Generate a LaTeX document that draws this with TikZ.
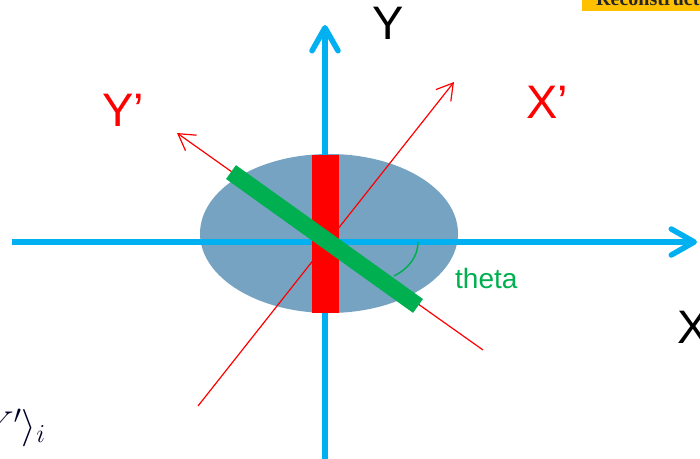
\documentclass[tikz,border=0pt]{standalone}
\usepackage{fontspec}
\setmainfont{Liberation Sans}
\newfontfamily\boxserif{Liberation Serif}
\usetikzlibrary{arrows.meta,shapes.geometric}
\definecolor{axisblue}{RGB}{0,176,240}
\definecolor{ellblue}{RGB}{118,163,193}
\definecolor{barred}{RGB}{255,0,0}
\definecolor{bargreen}{RGB}{0,176,80}
\definecolor{boxorange}{RGB}{255,192,0}
\tikzset{
  axisline/.style={draw=axisblue, line width=5.5pt, -{Straight Barb[length=23pt,width=26pt,round]}},
  primeline/.style={draw=barred, line width=1.2pt, -{Straight Barb[length=16pt,width=19pt]}},
  biglabel/.style={font=\fontsize{47}{50}\selectfont, inner sep=0pt, anchor=base west},
  thetalabel/.style={font=\fontsize{28}{32}\selectfont, inner sep=0pt, anchor=base west, text=bargreen},
}
\begin{document}
\begin{tikzpicture}[x=1pt,y=-1pt]
\useasboundingbox (0,0) rectangle (700,458);
\clip (0,0) rectangle (700,458);

% ellipse
\node[ellipse, fill=ellblue, minimum width=258pt, minimum height=159pt, inner sep=0pt] (ell) at (329,233.5) {};

% axes
\coordinate (xs) at (12,242);
\coordinate (xe) at (697,242);
\coordinate (ys) at (325,470);
\coordinate (ye) at (325,25);
\draw[axisline] (xs) -- (xe);
\draw[axisline] (ys) -- (ye);

% rotated axes
\coordinate (xps) at (198,406);
\coordinate (xpe) at (454,82);
\coordinate (yps) at (483,350);
\coordinate (ype) at (177,133);
\draw[primeline] (xps) -- (xpe);
\draw[primeline] (yps) -- (ype);

% theta arc
\coordinate (ta) at (418,242);
\coordinate (tb) at (394,276);
\draw[bargreen, line width=1.5pt] (ta) .. controls (418,257) and (408,269) .. (tb);

% bars
\node[rectangle, fill=barred, minimum width=27pt, minimum height=158pt, inner sep=0pt] (rbar) at (325.5,234) {};
\node[rectangle, fill=bargreen, minimum width=230pt, minimum height=17pt, inner sep=0pt, rotate=-35.6] (gbar) at (324.5,239) {};

% labels
\node[biglabel] (ylab) at (372,39) {Y};
\node[biglabel, text=barred] (yplab) at (102,126) {Y’};
\node[biglabel, text=barred] (xplab) at (526,118) {X’};
\node[biglabel] (xlab) at (677,343) {X};
\node[thetalabel] (thlab) at (455,288) {theta};

% cut-off fragments
\node[fill=boxorange, anchor=north west, minimum width=118pt, minimum height=11pt, inner sep=0pt] (obox) at (582,0) {};
\node[anchor=base west, inner sep=0pt, font=\boxserif\bfseries\fontsize{20}{22}\selectfont, text=black!85] (otext) at (596,5) {Reconstruction};
\node[anchor=base east, inner sep=0pt, text=black!85!blue] (frag) at (46,437) {\scalebox{1.5}{\fontsize{24}{28}\selectfont$Y'\rangle_i$}};
\end{tikzpicture}
\end{document}
